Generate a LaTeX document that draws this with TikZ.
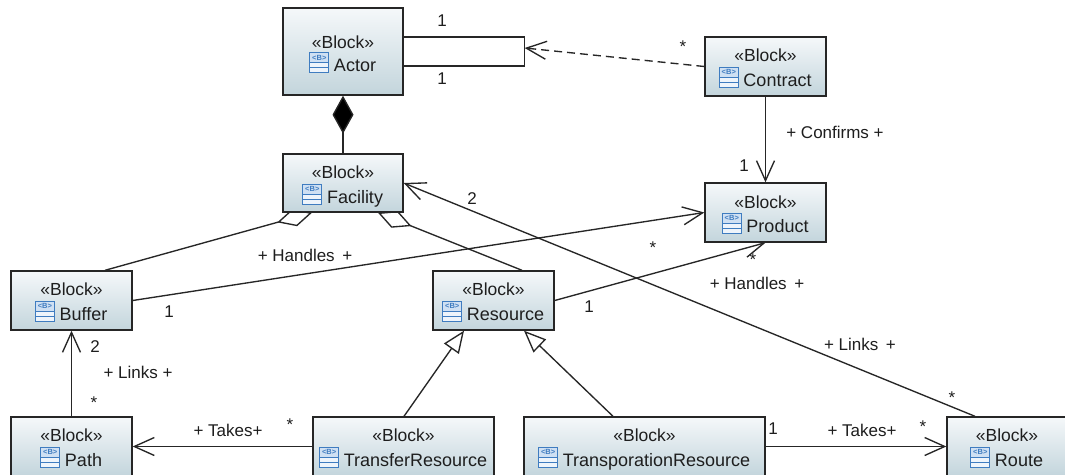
\documentclass[tikz,border=0pt]{standalone}
\usepackage{fontspec}
\setmainfont{Liberation Sans}
\usetikzlibrary{arrows.meta}
\pgfdeclarelayer{background}
\pgfsetlayers{background,main}
\definecolor{boxtop}{HTML}{F5F8FA}
\definecolor{boxbot}{HTML}{C3D5DC}
\definecolor{edge}{HTML}{262626}
\definecolor{icoblue}{HTML}{3F7CC0}
\definecolor{icofill}{HTML}{EEF4FB}
\definecolor{icotop}{HTML}{CFE0F3}
\definecolor{txt}{HTML}{1E1E1E}
\tikzset{
 blk/.style={draw=edge, line width=1.4pt, top color=boxtop, bottom color=boxbot, inner sep=0pt},
 stereo/.style={anchor=base, inner sep=0pt, text=txt, font=\fontsize{17.5}{19}\selectfont},
 nm/.style={anchor=base, inner sep=0pt, text=txt, font=\fontsize{18}{20}\selectfont},
 lbl/.style={inner sep=0pt, text=txt, font=\fontsize{17}{19}\selectfont},
 conn/.style={draw=edge, line width=1.35pt},
 barb/.style={-{Straight Barb[length=20pt,width=18pt]}},
 gen/.style={-{Triangle[length=22pt,width=18pt,fill=white]}},
 comp/.style={-{Diamond[length=38pt,width=21pt,fill=black]}},
 aggr/.style={-{Diamond[length=36pt,width=18pt,fill=white]}},
 blkicon/.pic={
   \draw[icoblue, fill=icofill, line width=1pt] (-19pt,-10pt) rectangle (0pt,10pt);
   \fill[icotop] (-18.5pt,0.5pt) rectangle (-0.5pt,9.5pt);
   \draw[icoblue, line width=1pt] (-19pt,0pt) -- (0pt,0pt);
   \draw[icoblue, line width=1pt] (-19pt,-5pt) -- (0pt,-5pt);
   \node[font=\fontsize{7.5}{7.5}\selectfont\bfseries, text=icoblue, inner sep=0pt] (lab) at (-9.5pt,5pt) {<B>};
 }
}
\newcommand{\mkblock}[8]{%
 \node[blk, minimum width=#4pt, minimum height=#5pt] (#1) at (#2,#3) {};
 \node[stereo] (#1s) at ([yshift=-#7pt]#1.north) {«Block»};
 \node[nm] (#1n) at ([xshift=12pt,yshift=-#8pt]#1.north) {#6};
 \pic (#1i) at ([xshift=-5pt,yshift=9pt]#1n.base west) {blkicon};
}
\begin{document}
\begin{tikzpicture}[x=1pt,y=-1pt]
\useasboundingbox (0,0) rectangle (1065,474);
\clip (0,0) rectangle (1065,474);
\begin{pgfonlayer}{background}
\fill[white] (0,0) rectangle (1065,474);
\end{pgfonlayer}

\mkblock{actor}{343}{51.5}{120}{87}{Actor}{41}{64.5}
\mkblock{facility}{343}{183}{120}{58}{Facility}{25.5}{50}
\mkblock{contract}{765.5}{66.5}{121}{59}{Contract}{25.5}{50}
\mkblock{product}{765.5}{212.5}{121}{59}{Product}{26.5}{50}
\mkblock{buffer}{71.5}{300.5}{121}{59}{Buffer}{25.5}{50}
\mkblock{resource}{493.5}{300.5}{121}{59}{Resource}{25.5}{50}
\mkblock{pathb}{71.5}{446.5}{121}{59}{Path}{25.5}{50}
\mkblock{transfer}{403.5}{446.5}{181}{59}{TransferResource}{25.5}{50}
\mkblock{transport}{644.5}{446.5}{241}{59}{TransporationResource}{25.5}{50}
\mkblock{route}{1007}{446.5}{120}{59}{Route}{25.5}{50}

\coordinate (selfmid) at ([xshift=121pt,yshift=3.5pt]actor.east);

\begin{pgfonlayer}{background}
\draw[conn] (actor.east) ++(0pt,14.5pt) -- ++(121pt,0pt) |- ([yshift=-14.5pt]actor.east);
\draw[conn, barb, dash pattern=on 8pt off 5pt] (contract.west) -- (selfmid);
\draw[conn, barb] (contract.south) -- (product.north);
\draw[conn, comp] (facility.north) -- (actor.south);
\draw[conn, aggr] ([xshift=33.5pt]buffer.north) -- ([xshift=-31pt]facility.south);
\draw[conn, aggr] ([xshift=28.5pt]resource.north) -- ([xshift=35pt]facility.south);
\draw[conn, barb] (buffer.east) -- (product.west);
\draw[conn, barb] (resource.east) -- (product.south);
\draw[conn, barb] ([xshift=-32pt]route.north) -- (facility.east);
\draw[conn, barb] (pathb.north) -- (buffer.south);
\draw[conn, barb] (transfer.west) -- (pathb.east);
\draw[conn, gen] ([xshift=0.5pt]transfer.north) -- ([xshift=-29.5pt]resource.south);
\draw[conn, gen] ([xshift=-31.5pt]transport.north) -- ([xshift=30.5pt]resource.south);
\draw[conn, barb] (transport.east) -- (route.west);
\end{pgfonlayer}

\node[lbl] (m1) at (442,21) {1};
\node[lbl] (m2) at (442,79) {1};
\node[lbl] (m3) at (683,47) {*};
\node[lbl] (l1) at (835,132) {+ Confirms +};
\node[lbl] (m4) at (744,166) {1};
\node[lbl] (m5) at (472,199) {2};
\node[lbl] (l2) at (305,255) {+ Handles\, +};
\node[lbl] (m6) at (169,312) {1};
\node[lbl] (m7) at (653,248) {*};
\node[lbl] (m8) at (753,260) {*};
\node[lbl] (l3) at (757,283) {+ Handles\, +};
\node[lbl] (m9) at (589,307) {1};
\node[lbl] (l4) at (860,344) {+ Links\, +};
\node[lbl] (m10) at (952,398) {*};
\node[lbl] (m11) at (95,347) {2};
\node[lbl] (l5) at (138,372) {+ Links +};
\node[lbl] (m12) at (94,403) {*};
\node[lbl] (l6) at (228,430) {+ Takes+};
\node[lbl] (m13) at (290,425) {*};
\node[lbl] (m14) at (773,429) {1};
\node[lbl] (l7) at (862,430) {+ Takes+};
\node[lbl] (m15) at (923,427) {*};
\end{tikzpicture}
\end{document}
